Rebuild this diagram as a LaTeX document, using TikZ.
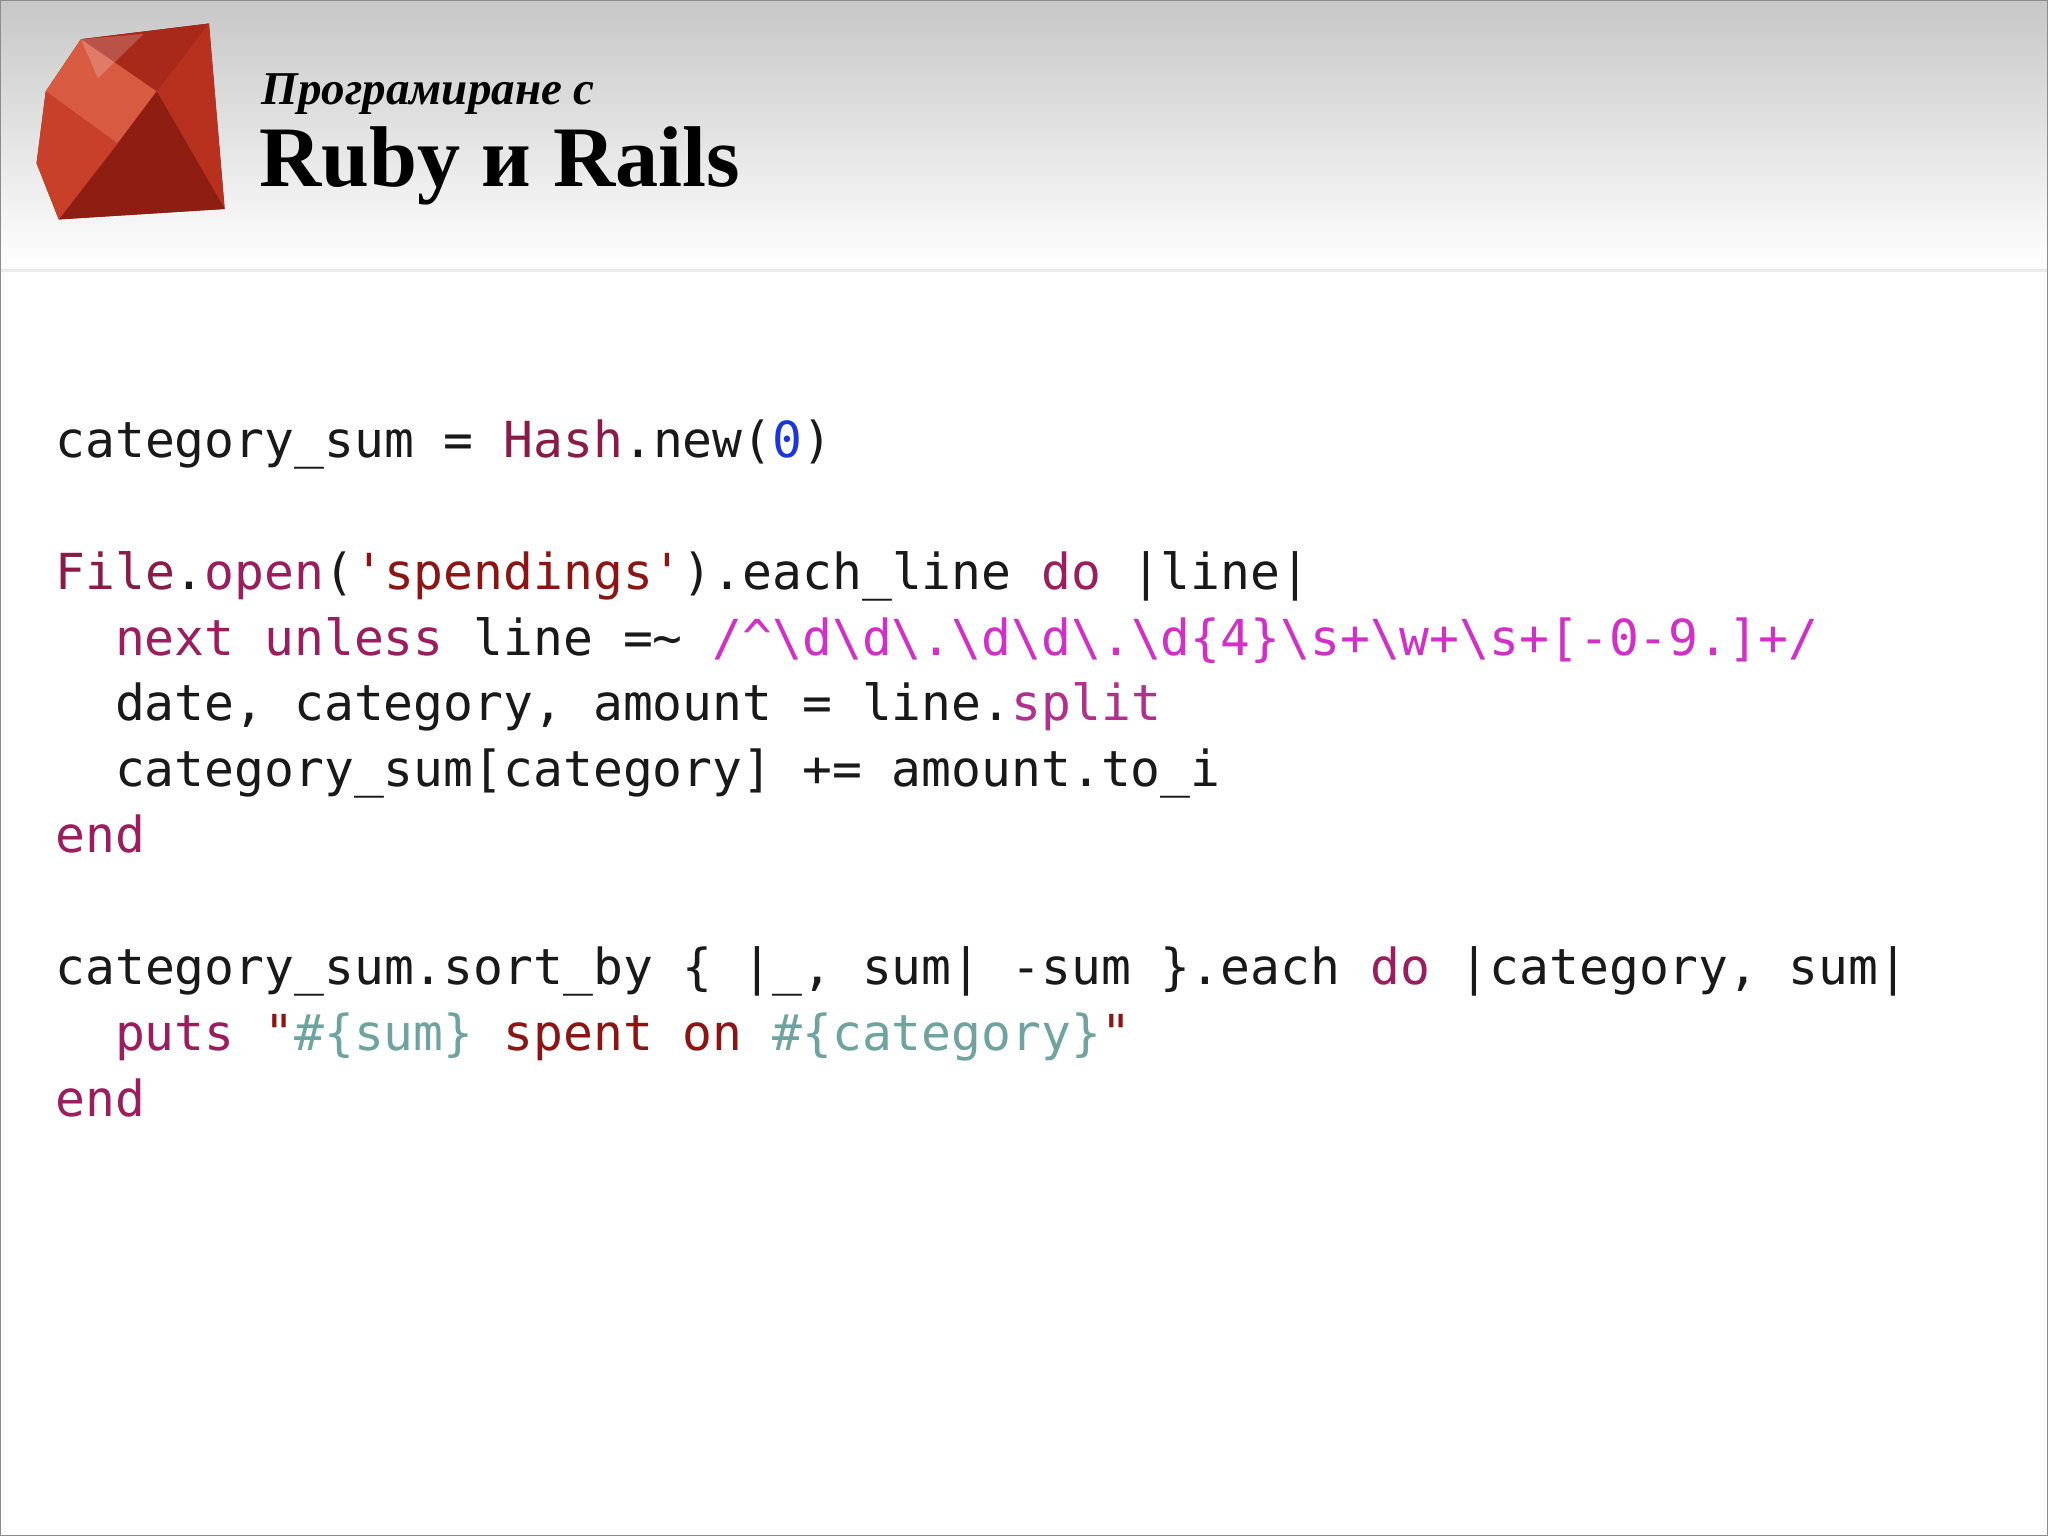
\documentclass[tikz,border=0pt]{standalone}
\usepackage{fontspec}
\setmainfont{Liberation Serif}
\setmonofont{DejaVu Sans Mono}
\usetikzlibrary{shadings}
\definecolor{kw}{HTML}{9B1D5E}
\definecolor{cls}{HTML}{8A1A48}
\definecolor{str}{HTML}{8E1414}
\definecolor{rx}{HTML}{D22FC8}
\definecolor{ip}{HTML}{6EA3A0}
\definecolor{num}{HTML}{1A35E0}
\definecolor{mth}{HTML}{B0308E}
\definecolor{g1}{HTML}{A8281A}
\definecolor{g2}{HTML}{C8402A}
\definecolor{g3}{HTML}{D85A40}
\definecolor{g4}{HTML}{8E1E12}
\definecolor{g5}{HTML}{B8301E}
\newcommand\ckw[1]{\textcolor{kw}{#1}}
\newcommand\ccl[1]{\textcolor{cls}{#1}}
\newcommand\cst[1]{\textcolor{str}{#1}}
\newcommand\crx[1]{\textcolor{rx}{#1}}
\newcommand\cip[1]{\textcolor{ip}{#1}}
\newcommand\cnm[1]{\textcolor{num}{#1}}
\newcommand\cmt[1]{\textcolor{mth}{#1}}
\newcommand\bs{\textbackslash}
\begin{document}
\begin{tikzpicture}[x=0.5pt,y=-0.5pt,
  code/.style={anchor=base west,inner sep=0pt,font=\fontsize{19}{19}\ttfamily,text=black!90}]
\useasboundingbox (0,0) rectangle (1568,1176);
\shade[top color=black!22,bottom color=white] (0,0) rectangle (1568,205);
\fill[white] (0,205) rectangle (1568,1176);
\draw[black!8,line width=1pt] (0,207) -- (1568,207);
\draw[black!45] (0.5,0.5) rectangle (1567.5,1175.5);
% ruby gem
\fill[g4] (62,30) -- (160,18) -- (172,160) -- (45,168) -- (28,125) -- (35,70) -- cycle;
\fill[g1] (62,30) -- (160,18) -- (120,70) -- cycle;
\fill[g3] (35,70) -- (62,30) -- (120,70) -- (90,110) -- cycle;
\fill[g5] (120,70) -- (160,18) -- (172,160) -- cycle;
\fill[g4] (90,110) -- (120,70) -- (172,160) -- (45,168) -- cycle;
\fill[g2] (28,125) -- (35,70) -- (90,110) -- (45,168) -- cycle;
\fill[white,opacity=0.2] (62,30) -- (110,26) -- (75,60) -- cycle;
% title
\node[anchor=base west,inner sep=0pt,font=\fontsize{18}{18}\bfseries\itshape] (t1) at (200,80) {Програмиране с};
\node[anchor=base west,inner sep=0pt,font=\fontsize{33}{33}\bfseries] (t2) at (198,143) {Ruby и Rails};
% code
\node[code] (l1) at (42,350) {category\_sum = \ccl{Hash}.new(\cnm{0})};
\node[code] (l3) at (42,451) {\ccl{File}.\ckw{open}(\cst{'spendings'}).each\_line \ckw{do} |line|};
\node[code] (l4) at (87.7,501.5) {\ckw{next} \ckw{unless} line =\textasciitilde{} \crx{/\textasciicircum\bs d\bs d\bs.\bs d\bs d\bs.\bs d\{4\}\bs s+\bs w+\bs s+[-0-9.]+/}};
\node[code] (l5) at (87.7,552) {date, category, amount = line.\cmt{split}};
\node[code] (l6) at (87.7,602.5) {category\_sum[category] += amount.to\_i};
\node[code] (l7) at (42,653) {\ckw{end}};
\node[code] (l9) at (42,754) {category\_sum.sort\_by \{ |\_, sum| -sum \}.each \ckw{do} |category, sum|};
\node[code] (l10) at (87.7,804.5) {\ckw{puts} \cst{"}\cip{\#\{sum\}}\cst{\ spent on\ }\cip{\#\{category\}}\cst{"}};
\node[code] (l11) at (42,855) {\ckw{end}};
\end{tikzpicture}
\end{document}
